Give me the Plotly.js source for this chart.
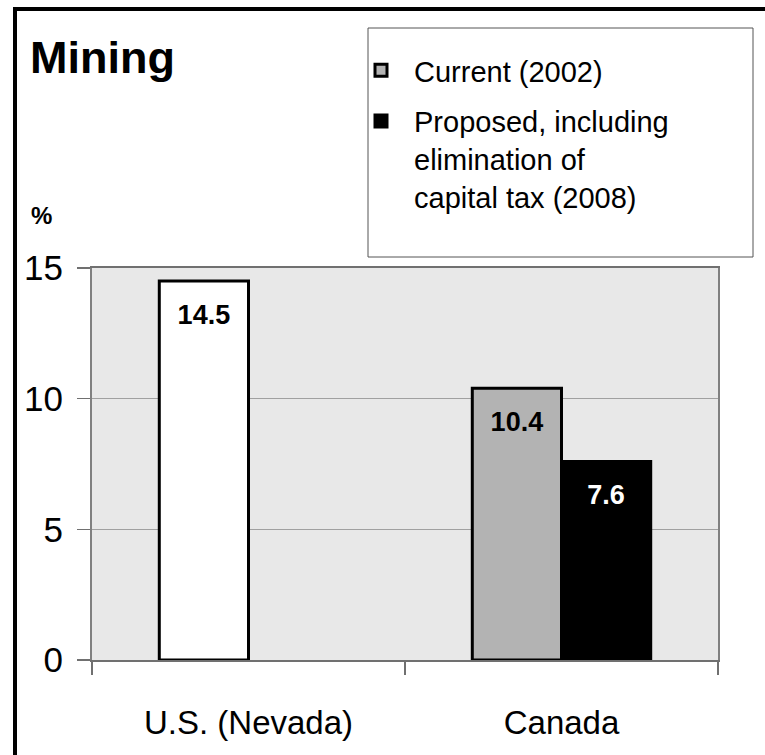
<!DOCTYPE html>
<html>
<head>
<meta charset="utf-8">
<script src="https://cdn.plot.ly/plotly-3.0.1.min.js"></script>
<style>
  html, body { margin: 0; padding: 0; background: #ffffff; }
  #chart { width: 765px; height: 755px; }
</style>
</head>
<body>
<div id="chart"></div>
<script>
// ---- data ----
const regions = ['U.S. (Nevada)', 'Canada'];
const currentRate = [14.5, 10.4];      // Current (2002); U.S. bar shown in white
const proposedRate = [null, 7.6];      // Proposed, incl. elimination of capital tax (2008)
const currentColors = ['#ffffff', '#b3b3b3'];
const seriesNames = ['Current (2002)', 'Proposed, including<br>elimination of<br>capital tax (2008)'];
const yTicks = [0, 5, 10, 15];

const FONT = '"Liberation Sans", Arial, Helvetica, sans-serif';
const labelTpl = '<span style="font-size:6px">&nbsp;</span><br>%{y:.1f}';

// listing Canada first so the legend swatch takes the grey colour
const order = [1, 0];
const trace1 = {
  type: 'bar',
  name: seriesNames[0],
  legendgroup: 'a',
  x: order.map(i => regions[i]),
  y: order.map(i => currentRate[i]),
  marker: { color: order.map(i => currentColors[i]), line: { color: '#000000', width: 3 } },
  texttemplate: labelTpl,
  textposition: 'inside',
  insidetextanchor: 'end',
  textangle: 0,
  insidetextfont: { family: FONT, size: 27, color: '#000000', weight: 'bold' },
  hoverinfo: 'skip'
};
const trace2 = {
  type: 'bar',
  name: seriesNames[1],
  legendgroup: 'b',
  x: regions,
  y: proposedRate,
  marker: { color: '#000000', line: { color: '#000000', width: 3 } },
  texttemplate: labelTpl,
  textposition: 'inside',
  insidetextanchor: 'end',
  textangle: 0,
  insidetextfont: { family: FONT, size: 27, color: '#ffffff', weight: 'bold' },
  hoverinfo: 'skip'
};

const L = 92, R = 718, T = 268, B = 660;
const pw = R - L, ph = B - T;
const px = v => (v - L) / pw;
const py = v => (B - v) / ph;

const layout = {
  width: 765, height: 755,
  margin: { l: L, r: 765 - R, t: T, b: 755 - B },
  paper_bgcolor: '#ffffff',
  plot_bgcolor: '#e8e8e8',
  font: { family: FONT, color: '#000000' },
  barmode: 'group',
  bargap: 0.43,
  bargroupgap: 0,
  showlegend: true,
  title: {
    text: '<b>Mining</b>',
    font: { family: FONT, size: 45, color: '#000000' },
    xref: 'container', x: 30 / 765, xanchor: 'left',
    yref: 'container', y: 1 - 41 / 755, yanchor: 'top'
  },
  legend: {
    x: px(348), xanchor: 'left',
    y: py(45), yanchor: 'top',
    bgcolor: 'rgba(0,0,0,0)',
    borderwidth: 0,
    itemwidth: 56,
    font: { family: FONT, size: 29, color: '#000000' },
    traceorder: 'grouped',
    tracegroupgap: 10,
    valign: 'top',
    itemclick: false, itemdoubleclick: false
  },
  xaxis: {
    type: 'category',
    categoryorder: 'array',
    categoryarray: regions,
    tickson: 'boundaries',
    ticks: 'outside', ticklen: 13, tickwidth: 1.5, tickcolor: '#707070',
    ticklabelstandoff: 32,
    tickfont: { family: FONT, size: 33, color: '#000000' },
    showline: true, linecolor: '#707070', linewidth: 2, mirror: true,
    showgrid: false, zeroline: false, fixedrange: true
  },
  yaxis: {
    range: [0, 15],
    tickvals: yTicks,
    ticktext: yTicks.map(String),
    ticks: 'outside', ticklen: 13, tickwidth: 1.5, tickcolor: '#707070',
    ticklabelstandoff: 7,
    tickfont: { family: FONT, size: 35, color: '#000000' },
    showline: true, linecolor: '#808080', linewidth: 2, mirror: true,
    showgrid: true, gridcolor: '#a0a0a0', gridwidth: 1.5,
    zeroline: false, fixedrange: true
  },
  shapes: [
    { type: 'rect', xref: 'paper', yref: 'paper',
      x0: px(15), x1: px(900), y0: py(900), y1: py(9),
      line: { color: '#000000', width: 4 }, fillcolor: 'rgba(0,0,0,0)', layer: 'above' },
    { type: 'rect', xref: 'paper', yref: 'paper',
      x0: px(368), x1: px(753), y0: py(257), y1: py(28),
      line: { color: '#555555', width: 1 }, fillcolor: 'rgba(0,0,0,0)', layer: 'above' }
  ],
  annotations: [
    { text: '<b>%</b>', xref: 'paper', yref: 'paper',
      x: px(29), xanchor: 'left', y: py(215), yanchor: 'middle',
      showarrow: false, font: { family: FONT, size: 24, color: '#000000' } }
  ]
};

Plotly.newPlot('chart', [trace1, trace2], layout, { displayModeBar: false, staticPlot: true });
</script>
</body>
</html>
